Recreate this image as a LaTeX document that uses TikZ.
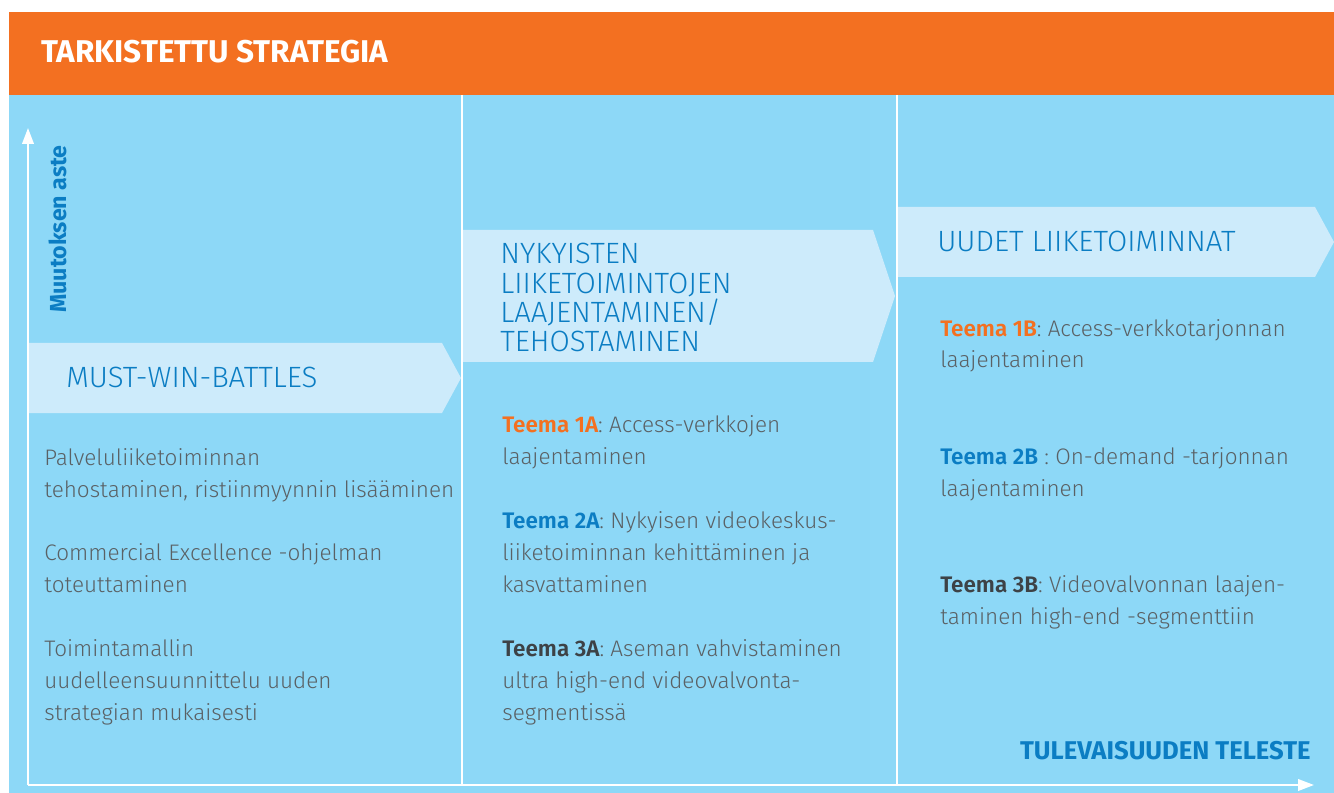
\documentclass[tikz,border=0pt]{standalone}
\usepackage{fontspec}
\setmainfont{Fira Sans}[UprightFont=* Light, BoldFont=* SemiBold]
\newfontfamily\heavyfont{Fira Sans Bold}
\usepackage{tikz}
\usetikzlibrary{arrows.meta}

\definecolor{strategyorange}{HTML}{F37021}
\definecolor{panelblue}{HTML}{8DD8F7}
\definecolor{bannerblue}{HTML}{CDEBFB}
\definecolor{headblue}{HTML}{0B7DC3}
\definecolor{textgray}{HTML}{5A6165}
\definecolor{darkgray}{HTML}{3D4246}

\newcommand{\teema}[2]{\textbf{\textcolor{#1}{#2}}}

\begin{document}
\begin{tikzpicture}[x=0.02cm, y=-0.02cm,
    body/.style={anchor=base west, align=left, inner sep=0pt, text=textgray, font=\fontsize{12.8}{18.1}\selectfont},
    heading/.style={anchor=base west, align=left, inner sep=0pt, text=headblue, font=\fontsize{16.7}{16.7}\selectfont},
    banner/.style={fill=bannerblue},
    divider/.style={draw=white, line width=1.2pt},
    axis/.style={draw=white, line width=1.2pt, -{Triangle[length=9pt,width=6.5pt]}},
    axislabel/.style={inner sep=0pt, text=headblue}]
  \useasboundingbox (0,0) rectangle (1334,793);

  % header and panel
  \fill[strategyorange] (9,12) rectangle (1334,95);
  \fill[panelblue] (9,95) rectangle (1334,793);
  \node[anchor=base west, inner sep=0pt, text=white, font=\fontsize{17.9}{18}\heavyfont] (title) at (41,63) {TARKISTETTU STRATEGIA};

  % banners
  \fill[banner] (29,343) -- (442,343) -- (461,378) -- (442,413) -- (29,413) -- cycle;
  \fill[banner] (463,230) -- (873,230) -- (895,296) -- (873,362) -- (463,362) -- cycle;
  \fill[banner] (898,207) -- (1315,207) -- (1334,242) -- (1315,277) -- (898,277) -- cycle;

  % base = last line
  \node[heading] (mwb) at (66,388) {MUST-WIN-BATTLES};
  \node[heading] (nykyiset) at (500,352) {NYKYISTEN\\LIIKETOIMINTOJEN\\LAAJENTAMINEN/\\TEHOSTAMINEN};
  \node[heading] (uudet) at (937,252) {UUDET LIIKETOIMINNAT};

  % column dividers
  \coordinate (div1top) at (462,95);
  \coordinate (div1bot) at (462,785);
  \coordinate (div2top) at (897,95);
  \coordinate (div2bot) at (897,785);
  \draw[divider] (div1top) -- (div1bot);
  \draw[divider] (div2top) -- (div2bot);

  % column 1
  \node[body] (mwb1) at (44,497) {Palveluliiketoiminnan\\tehostaminen, ristiinmyynnin lisääminen};
  \node[body] (mwb2) at (44,592) {Commercial Excellence -ohjelman\\toteuttaminen};
  \node[body] (mwb3) at (44,720) {Toimintamallin\\uudelleensuunnittelu uuden\\strategian mukaisesti};

  % column 2
  \node[body] (t1a) at (502,464) {\teema{strategyorange}{Teema 1A}: Access-verkkojen\\laajentaminen};
  \node[body] (t2a) at (502,592) {\teema{headblue}{Teema 2A}: Nykyisen videokeskus-\\liiketoiminnan kehittäminen ja\\kasvattaminen};
  \node[body] (t3a) at (502,720) {\teema{darkgray}{Teema 3A}: Aseman vahvistaminen\\ultra high-end videovalvonta-\\segmentissä};

  % column 3
  \node[body] (t1b) at (940,368) {\teema{strategyorange}{Teema 1B}: Access-verkkotarjonnan\\laajentaminen};
  \node[body] (t2b) at (940,496) {\teema{headblue}{Teema 2B} : On-demand -tarjonnan\\laajentaminen};
  \node[body] (t3b) at (940,624) {\teema{darkgray}{Teema 3B}: Videovalvonnan laajen-\\taminen high-end -segmenttiin};

  % axes
  \coordinate (origin) at (28,785);
  \coordinate (ytip) at (28,128);
  \coordinate (xtip) at (1314,785);
  \draw[axis] (origin) -- (ytip);
  \draw[axis] (origin) -- (xtip);
  \node[axislabel, anchor=base west, rotate=90, font=\fontsize{13.2}{15}\heavyfont] (aste) at (66,313) {Muutoksen aste};
  \node[axislabel, anchor=base east, font=\fontsize{14.6}{16}\heavyfont] (teleste) at (1311,759) {TULEVAISUUDEN TELESTE};
\end{tikzpicture}
\end{document}
